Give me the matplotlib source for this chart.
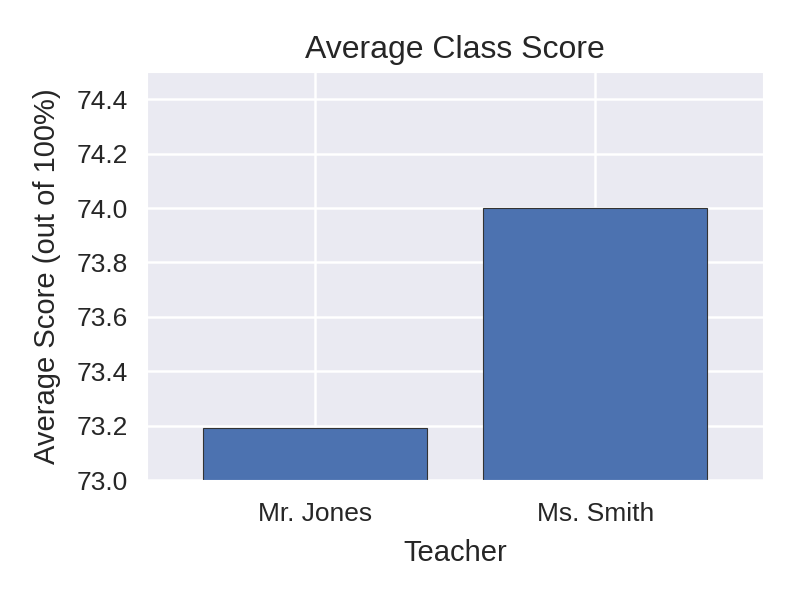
import matplotlib
matplotlib.use("Agg")
import matplotlib.pyplot as plt
import seaborn as sns

teachers = ["Mr. Jones", "Ms. Smith"]
avg_scores = [73.19, 74.0]

sns.set_style("darkgrid")
plt.rcParams['font.family'] = ['Liberation Sans', 'DejaVu Sans']

fig, ax = plt.subplots(figsize=(8, 6), dpi=100)
fig.subplots_adjust(left=0.184, right=0.954, top=0.88, bottom=0.2)

ax.bar(teachers, avg_scores, width=0.8, color="#4C72B0", edgecolor="#333333", linewidth=0.8)
ax.set_xlim(-0.6, 1.6)
ax.set_ylim(73.0, 74.5)
ax.set_yticks([73.0, 73.2, 73.4, 73.6, 73.8, 74.0, 74.2, 74.4])
ax.set_title("Average Class Score", fontsize=23, color="#262626", pad=10)
ax.set_xlabel("Teacher", fontsize=21, labelpad=10)
ax.set_ylabel("Average Score (out of 100%)", fontsize=21, labelpad=11)
ax.tick_params(axis="x", labelsize=19, pad=12)
ax.tick_params(axis="y", labelsize=19, pad=10.5)
ax.grid(color="white", linewidth=1.8)

fig.savefig("out.png", dpi=100)
